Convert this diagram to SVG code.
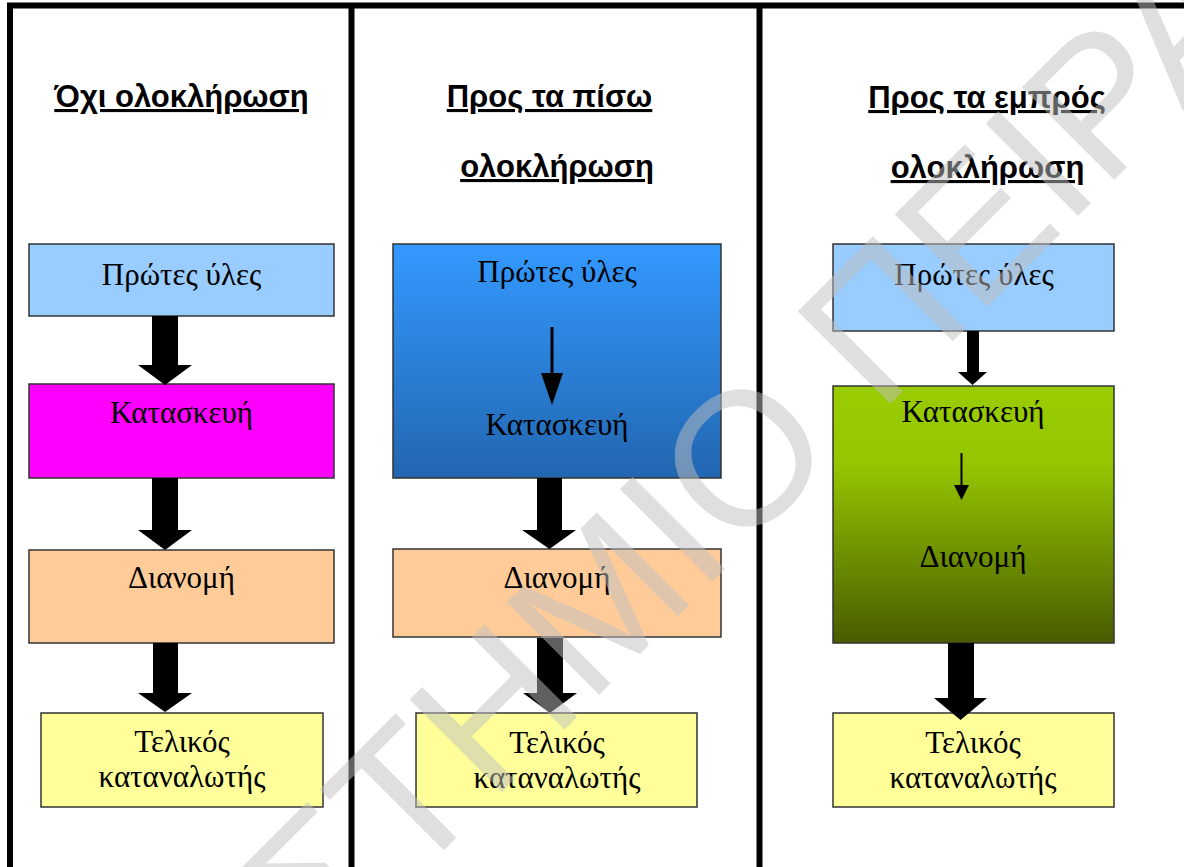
<svg xmlns="http://www.w3.org/2000/svg" width="1184" height="867" viewBox="0 0 1184 867">
<style>
.frame{stroke:#000;stroke-width:6;fill:none}
.box{stroke:#333;stroke-width:1.5}
.lbl{font-family:"Liberation Serif","Times New Roman",serif;font-size:31px;fill:#000;text-anchor:middle}
.title{font-family:"Liberation Sans",Arial,sans-serif;font-size:31px;font-weight:bold;fill:#000;text-anchor:middle;text-decoration:underline}
.arr{fill:#000}
.thin{stroke:#000;stroke-width:3;fill:none}
.wm{font-family:"Liberation Sans",Arial,sans-serif;font-size:190px;fill:#C0C0C0;opacity:0.5}
</style>
<defs>
<linearGradient id="gBlue" x1="0" y1="0" x2="0" y2="1">
<stop offset="0" stop-color="#3399FF"/>
<stop offset="1" stop-color="#2266B0"/>
</linearGradient>
<linearGradient id="gGreen" x1="0" y1="0" x2="0" y2="1">
<stop offset="0" stop-color="#99CC00"/>
<stop offset="0.3" stop-color="#95C600"/>
<stop offset="1" stop-color="#485C00"/>
</linearGradient>
</defs>
<rect width="1184" height="867" fill="#fff"/>
<g id="frame">
<line class="frame" x1="7" y1="5.5" x2="1184" y2="5.5"/>
<line class="frame" x1="10" y1="3" x2="10" y2="867"/>
<line class="frame" x1="351.5" y1="3" x2="351.5" y2="867"/>
<line class="frame" x1="759.5" y1="3" x2="759.5" y2="867"/>
</g>
<g id="titles">
<text class="title" x="181.5" y="107">Όχι ολοκλήρωση</text>
<text class="title" x="549.5" y="107">Προς τα πίσω</text>
<text class="title" x="557" y="177">ολοκλήρωση</text>
<text class="title" x="987" y="108">Προς τα εμπρός</text>
<text class="title" x="987.5" y="178">ολοκλήρωση</text>
</g>
<g id="c1-raw">
<rect class="box" x="29" y="244" width="305" height="72" fill="#99CCFF"/>
<text class="lbl" x="181.5" y="285">Πρώτες ύλες</text>
</g>
<g id="c1-build">
<rect class="box" x="29" y="384" width="305" height="94" fill="#FF00FF"/>
<text class="lbl" x="181.5" y="423">Κατασκευή</text>
</g>
<g id="c1-dist">
<rect class="box" x="29" y="550" width="305" height="93" fill="#FFCC99"/>
<text class="lbl" x="181.5" y="588">Διανομή</text>
</g>
<g id="c1-final">
<rect class="box" x="41" y="713" width="282" height="94" fill="#FFFF99"/>
<text class="lbl" x="182" y="752">Τελικός</text>
<text class="lbl" x="182" y="787">καταναλωτής</text>
</g>
<g id="c2-rawbuild">
<rect class="box" x="393" y="244" width="328" height="234" fill="url(#gBlue)"/>
<text class="lbl" x="557" y="282">Πρώτες ύλες</text>
<text class="lbl" x="557" y="435">Κατασκευή</text>
</g>
<g id="c2-dist">
<rect class="box" x="393" y="549" width="328" height="88" fill="#FFCC99"/>
<text class="lbl" x="557" y="588">Διανομή</text>
</g>
<g id="c2-final">
<rect class="box" x="416" y="713" width="281" height="94" fill="#FFFF99"/>
<text class="lbl" x="557" y="753">Τελικός</text>
<text class="lbl" x="557" y="788">καταναλωτής</text>
</g>
<g id="c3-raw">
<rect class="box" x="833" y="244" width="281" height="87" fill="#99CCFF"/>
<text class="lbl" x="974" y="285">Πρώτες ύλες</text>
</g>
<g id="c3-builddist">
<rect class="box" x="833" y="386" width="281" height="257" fill="url(#gGreen)"/>
<text class="lbl" x="973" y="422">Κατασκευή</text>
<text class="lbl" x="973" y="567">Διανομή</text>
</g>
<g id="c3-final">
<rect class="box" x="833" y="713" width="281" height="94" fill="#FFFF99"/>
<text class="lbl" x="973" y="753">Τελικός</text>
<text class="lbl" x="973" y="788">καταναλωτής</text>
</g>
<g id="connectors">
<path class="arr" d="M152,316 H178 V365 H192 L165,385 L138,365 H152 Z"/>
<path class="arr" d="M152,478 H178 V530 H192 L165,550 L138,530 H152 Z"/>
<path class="arr" d="M153,643 H178 V693 H192 L165,712 L138,693 H153 Z"/>
<line class="thin" x1="552" y1="327" x2="552" y2="375"/>
<path class="arr" d="M541,373 H563 L552,405 Z"/>
<path class="arr" d="M537,478 H562 V530 H576 L549.5,549 L522,530 H537 Z"/>
<path class="arr" d="M537,638 H563 V693 H577 L550,713 L523,693 H537 Z"/>
<path class="arr" d="M967,331 H979 V372 H987 L972.5,385 L958,372 H967 Z"/>
<line x1="961.5" y1="453" x2="961.5" y2="487" stroke="#000" stroke-width="2"/>
<path class="arr" d="M954,485 H969 L961.5,500 Z"/>
<path class="arr" d="M948,643 H974 V698 H987 L960.5,720 L934,698 H948 Z"/>
</g>
<g id="watermark">
<text class="wm" transform="translate(326,968) rotate(-45)">ΣΤΗΜΙΟ ΠΕΙΡΑ</text>
</g>
</svg>
